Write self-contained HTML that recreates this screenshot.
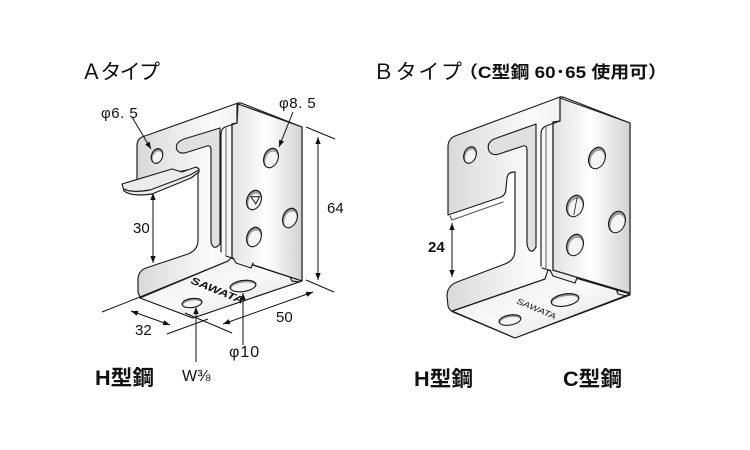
<!DOCTYPE html>
<html><head><meta charset="utf-8">
<style>
html,body{margin:0;padding:0;background:#fff;}
svg{display:block;}
text{font-family:"Liberation Sans","Noto Sans CJK JP",sans-serif;fill:#111;}
</style></head>
<body>
<svg width="750" height="450" viewBox="0 0 750 450" xmlns="http://www.w3.org/2000/svg">
<defs>
<linearGradient id="gL" x1="0" y1="0" x2="1" y2="0">
<stop offset="0" stop-color="#d8d8d8"/><stop offset="0.45" stop-color="#fbfbfb"/><stop offset="1" stop-color="#e0e0e0"/>
</linearGradient>
<linearGradient id="gR" x1="0" y1="0" x2="1" y2="0">
<stop offset="0" stop-color="#e2e2e2"/><stop offset="0.5" stop-color="#ffffff"/><stop offset="1" stop-color="#d2d2d2"/>
</linearGradient>
<linearGradient id="gB" x1="0" y1="0" x2="1" y2="1">
<stop offset="0" stop-color="#e6e6e6"/><stop offset="0.5" stop-color="#fafafa"/><stop offset="1" stop-color="#dadada"/>
</linearGradient>
<marker id="ah" viewBox="0 0 10 10" refX="10" refY="5" markerWidth="7" markerHeight="7" orient="auto-start-reverse" markerUnits="userSpaceOnUse">
<path d="M0,1.2 L10,5 L0,8.8 Z" fill="#111"/>
</marker>
</defs>

<!-- Titles -->
<text x="81" y="79" font-size="21" textLength="79" lengthAdjust="spacing">Ａタイプ</text>
<text x="373" y="79" font-size="21" textLength="89" lengthAdjust="spacing">Ｂタイプ</text>
<text x="459" y="78" font-size="17" font-weight="bold" textLength="208" lengthAdjust="spacingAndGlyphs">（C型鋼 60･65 使用可）</text>

<!-- ================= A TYPE ================= -->
<g stroke="#1a1a1a" stroke-width="1.15" stroke-linejoin="round" stroke-linecap="round">
<path d="M238,103 L142,137 Q137,139 137,146 L137,180 L198,168 L198,240 Q198,250 188,254 L146,268 Q138,271 138,280 L138,292 Q139,297 143,299 L193,318 L302,281 L302,127 L241,103 Z" fill="url(#gL)"/>
<path d="M238,104 L302,127 L302,281 L232,258 L232,124 L237,123 Z" fill="url(#gR)"/>
<path d="M140,298 L228,261 L231,258 L302,281 L193,318 Z" fill="url(#gB)"/>
<path d="M237,104 L237,123" fill="none"/>
<path d="M237,123 L225,127 Q221,129 221,135 L221,252" fill="none"/>
<path d="M226,127 L226,256" fill="none" stroke="#777"/>
<path d="M232,124 L232,258" fill="none"/>
<path d="M220,128 L184,139 Q174,143 177,150 Q180,155 188,152 L207,146 Q211,145 211,150 L211,242 Q213,250 218,246 L220,244 Z" fill="#e0e0e0"/>
<path d="M226,256 L302,281" fill="none"/>
<path d="M233,258 L236,263 L251,268 L253,263" fill="#eee"/>
<path d="M290,277 L292,281 L299,282" fill="none"/>
<path d="M122,184 L172,169 L182,172 L196,167 L199,169 L199,172 L191,178 L152,194 Q132,197 124,191 Z" fill="#ececec"/>
<path d="M124,189 Q131,193 150,190 L190,175 L199,170" fill="none"/>
<path d="M140,297 L228,261" fill="none"/>
</g>
<g stroke="#1a1a1a" stroke-width="1">
<g transform="translate(157,156) rotate(20)"><ellipse rx="5.5" ry="7.5" fill="#999"/><ellipse cx="1" cy="1.2" rx="4.6" ry="6.4" fill="#f5f5f5" stroke="none"/><ellipse rx="5.5" ry="7.5" fill="none"/></g>
<g transform="translate(271,158) rotate(20)"><ellipse rx="7" ry="10" fill="#999"/><ellipse cx="1.2" cy="1.5" rx="6" ry="8.6" fill="#f5f5f5" stroke="none"/><ellipse rx="7" ry="10" fill="none"/></g>
<g transform="translate(254,200) rotate(20)"><ellipse rx="7" ry="10" fill="#999"/><ellipse cx="1.2" cy="1.5" rx="6" ry="8.6" fill="#f5f5f5" stroke="none"/><ellipse rx="7" ry="10" fill="none"/><path d="M-4,-2 L4,-5 L3,3 Z" fill="none"/></g>
<g transform="translate(290,218) rotate(20)"><ellipse rx="7" ry="10" fill="#999"/><ellipse cx="1.2" cy="1.5" rx="6" ry="8.6" fill="#f5f5f5" stroke="none"/><ellipse rx="7" ry="10" fill="none"/></g>
<g transform="translate(254,237) rotate(20)"><ellipse rx="7" ry="10" fill="#999"/><ellipse cx="1.2" cy="1.5" rx="6" ry="8.6" fill="#f5f5f5" stroke="none"/><ellipse rx="7" ry="10" fill="none"/></g>
<g transform="translate(192,303) rotate(-8)"><ellipse rx="10" ry="4.5" fill="#999"/><ellipse cy="1" rx="9" ry="3.4" fill="#f5f5f5" stroke="none"/><ellipse rx="10" ry="4.5" fill="none"/></g>
<g transform="translate(243,286) rotate(-8)"><ellipse rx="13" ry="5.5" fill="#999"/><ellipse cy="1" rx="12" ry="4.3" fill="#f5f5f5" stroke="none"/><ellipse rx="13" ry="5.5" fill="none"/></g>
</g>
<text transform="translate(190,283) rotate(22)" font-size="10" font-weight="bold" font-style="italic" textLength="56" lengthAdjust="spacingAndGlyphs">SAWATA</text>

<!-- A dimensions -->
<g stroke="#111" stroke-width="1" fill="none">
<line x1="132" y1="117" x2="151" y2="149" marker-end="url(#ah)"/>
<line x1="293" y1="112" x2="279" y2="147" marker-end="url(#ah)"/>
<line x1="318" y1="137" x2="318" y2="280" marker-start="url(#ah)" marker-end="url(#ah)"/>
<line x1="306" y1="127" x2="335" y2="139"/>
<line x1="306" y1="280" x2="334" y2="292"/>
<line x1="153" y1="193" x2="153" y2="263" marker-start="url(#ah)" marker-end="url(#ah)"/>
<line x1="131" y1="311" x2="170" y2="325" marker-start="url(#ah)" marker-end="url(#ah)"/>
<line x1="102" y1="312" x2="140" y2="297"/>
<line x1="167" y1="334" x2="208" y2="319"/>
<line x1="223" y1="324" x2="313" y2="292" marker-start="url(#ah)" marker-end="url(#ah)"/>
<line x1="185" y1="313" x2="232" y2="333"/>
<line x1="243" y1="345" x2="243" y2="293" marker-end="url(#ah)"/>
<line x1="196" y1="362" x2="196" y2="307" marker-end="url(#ah)"/>
</g>
<text x="101" y="118" font-size="15" letter-spacing="0.5" xml:space="preserve">φ6. 5</text>
<text x="279" y="108" font-size="15" letter-spacing="0.5" xml:space="preserve">φ8. 5</text>
<text x="327" y="213" font-size="15">64</text>
<text x="133" y="233" font-size="15">30</text>
<text x="135" y="335" font-size="15">32</text>
<text x="276" y="322" font-size="15">50</text>
<text x="229" y="357" font-size="16" letter-spacing="1">φ10</text>
<text x="182" y="381" font-size="16">W⅜</text>
<text x="95" y="385" font-size="21" font-weight="bold" textLength="59" lengthAdjust="spacingAndGlyphs">H型鋼</text>

<!-- ================= B TYPE ================= -->
<g stroke="#1a1a1a" stroke-width="1.15" stroke-linejoin="round" stroke-linecap="round">
<path d="M560,97 L455,136 Q448,139 448,147 L448,215 L501,197 Q506,195 506,188 L507,178 Q508,172 514,172 L515,172 L515,250 Q515,260 505,264 L457,282 Q447,286 447,296 L448,306 Q449,310 453,312 L515,338 L630,295 L630,123 L563,97 Z" fill="url(#gL)"/>
<path d="M560,98 L630,123 L630,293 L553,270 L553,122 L560,121 Z" fill="url(#gR)"/>
<path d="M452,311 L545,279 L548,270 L630,294 L515,338 Z" fill="url(#gB)"/>
<path d="M560,98 L560,121" fill="none"/>
<path d="M560,121 L546,126 Q541,128 541,134 L541,266" fill="none"/>
<path d="M546,127 L546,268" fill="none" stroke="#777"/>
<path d="M553,122 L553,270" fill="none"/>
<path d="M536,124 L494,139 Q486,143 489,151 Q492,156 499,154 L523,146 Q527,145 527,150 L527,244 Q529,254 534,250 L536,247 Z" fill="#e0e0e0"/>
<path d="M542,268 L628,293" fill="none"/>
<path d="M550,270 L553,276 L575,283 L577,278" fill="#eee"/>
<path d="M616,289 L618,294 L627,296" fill="none"/>
<path d="M453,311 L545,279" fill="none"/>
<path d="M450,216 L452,220 L503,202" fill="none" stroke="#555"/>
</g>
<g stroke="#1a1a1a" stroke-width="1">
<g transform="translate(470,155) rotate(20)"><ellipse rx="6" ry="8.5" fill="#999"/><ellipse cx="1" cy="1.3" rx="5" ry="7.3" fill="#f5f5f5" stroke="none"/><ellipse rx="6" ry="8.5" fill="none"/></g>
<g transform="translate(597,158) rotate(20)"><ellipse rx="8" ry="11" fill="#999"/><ellipse cx="1.3" cy="1.6" rx="6.8" ry="9.5" fill="#f5f5f5" stroke="none"/><ellipse rx="8" ry="11" fill="none"/></g>
<g transform="translate(575,206) rotate(20)"><ellipse rx="8" ry="11" fill="#999"/><ellipse cx="1.3" cy="1.6" rx="6.8" ry="9.5" fill="#f5f5f5" stroke="none"/><ellipse rx="8" ry="11" fill="none"/><line x1="-1" y1="-9" x2="2" y2="9" stroke-width="0.8"/></g>
<g transform="translate(617,222) rotate(20)"><ellipse rx="8" ry="11" fill="#999"/><ellipse cx="1.3" cy="1.6" rx="6.8" ry="9.5" fill="#f5f5f5" stroke="none"/><ellipse rx="8" ry="11" fill="none"/></g>
<g transform="translate(575,245) rotate(20)"><ellipse rx="8" ry="11" fill="#999"/><ellipse cx="1.3" cy="1.6" rx="6.8" ry="9.5" fill="#f5f5f5" stroke="none"/><ellipse rx="8" ry="11" fill="none"/></g>
<g transform="translate(510,320) rotate(-10)"><ellipse rx="11" ry="5" fill="#999"/><ellipse cy="1" rx="10" ry="3.8" fill="#f5f5f5" stroke="none"/><ellipse rx="11" ry="5" fill="none"/></g>
<g transform="translate(565,300) rotate(-10)"><ellipse rx="14" ry="6" fill="#999"/><ellipse cy="1" rx="13" ry="4.7" fill="#f5f5f5" stroke="none"/><ellipse rx="14" ry="6" fill="none"/></g>
</g>
<text transform="translate(516,303) rotate(23)" font-size="8" font-style="italic" textLength="42" lengthAdjust="spacingAndGlyphs">SAWATA</text>

<line x1="452" y1="223" x2="452" y2="277" stroke="#111" stroke-width="1" marker-start="url(#ah)" marker-end="url(#ah)"/>
<text x="428" y="252" font-size="15" font-weight="bold">24</text>

<text x="414" y="386" font-size="21" font-weight="bold" textLength="59" lengthAdjust="spacingAndGlyphs">H型鋼</text>
<text x="563" y="386" font-size="21" font-weight="bold" textLength="59" lengthAdjust="spacingAndGlyphs">C型鋼</text>
</svg>
</body></html>
